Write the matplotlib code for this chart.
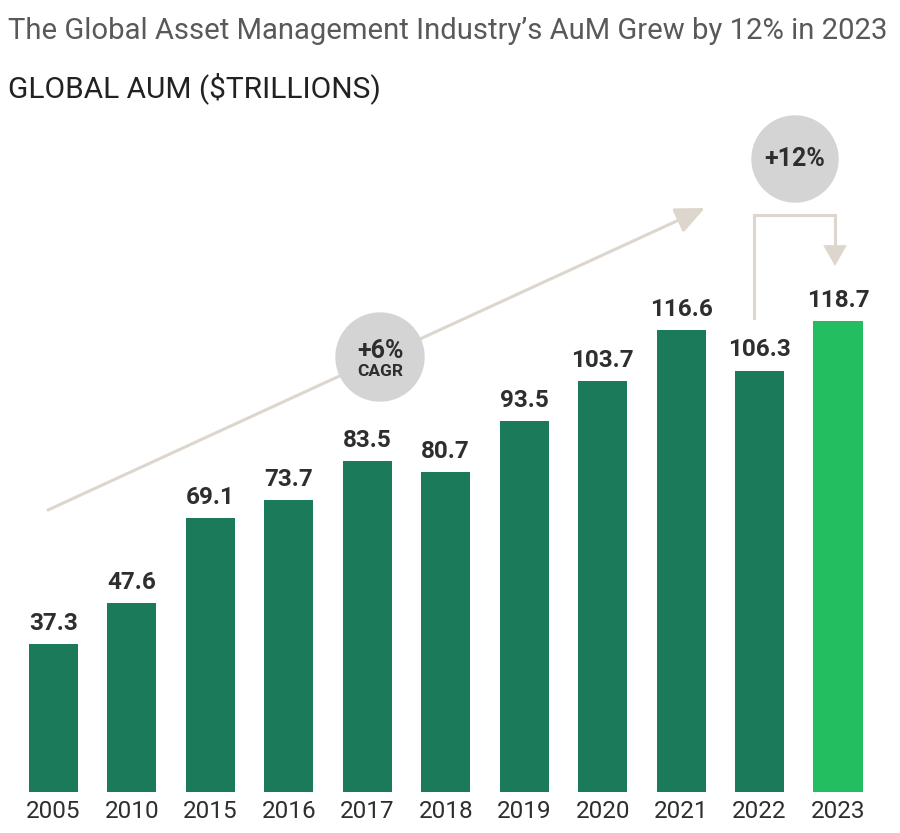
import matplotlib
matplotlib.use("Agg")
import matplotlib.pyplot as plt
from matplotlib.patches import Circle, FancyArrowPatch
from matplotlib.transforms import IdentityTransform

# Dados (US$ trilhoes)
years = ["2005", "2010", "2015", "2016", "2017", "2018", "2019", "2020", "2021", "2022", "2023"]
aum = [37.3, 47.6, 69.1, 73.7, 83.5, 80.7, 93.5, 103.7, 116.6, 106.3, 118.7]
value_labels = ["37.3", "47.6", "69.1", "73.7", "83.5", "80.7", "93.5", "103.7", "116.6", "106.3", "118.7"]

DARK = "#1b7a59"
BRIGHT = "#22be5f"
BEIGE = "#ddd6cc"
GREY = "#d4d4d4"
TXT = "#2e2e2e"

W, H = 900, 833
x0_px, step_px = 53.5, 78.45   # centro da primeira barra e passo
base_px, unit_px = 792, 3.965  # linha de base e px por trilhao

fig = plt.figure(figsize=(W / 100, H / 100), dpi=100)
ax = fig.add_axes([0, 0, 1, 1])
ax.set_xlim(-x0_px / step_px, (W - x0_px) / step_px)
ax.set_ylim(-(H - base_px) / unit_px, base_px / unit_px)
ax.axis("off")

# conversao pixel -> dados (apenas para as anotacoes)
def px(x, y):
    return (x - x0_px) / step_px, (base_px - y) / unit_px

cond = ["Roboto", "DejaVu Sans"]

colors = [DARK] * (len(years) - 1) + [BRIGHT]
pos = list(range(len(years)))
ax.bar(pos, aum, width=0.625, color=colors, zorder=2)

for i in pos:
    ax.text(i, aum[i] + 5.2, value_labels[i], ha="center", va="center",
            fontsize=17.5, fontweight="bold", color=TXT, family=cond)
    ax.text(i, px(0, 811)[1], years[i], ha="center", va="center",
            fontsize=17.5, color=TXT, family=cond)

# titulos, ajustados a largura do original
renderer = fig.canvas.get_renderer()

def fit_text(x, y, s, width_px, size, **kw):
    t = fig.text(x / W, 1 - y / H, s, ha="left", va="center", fontsize=size, **kw)
    w = t.get_window_extent(renderer).width
    t.set_fontsize(size * width_px / w)
    return t

fit_text(8, 31, "The Global Asset Management Industry\u2019s AuM Grew by 12% in 2023",
         877, 20, color="#595959", family=cond)
fit_text(8, 88, "GLOBAL AUM ($TRILLIONS)", 372, 18, color="#222222", family=cond)

# seta longa (CAGR)
ax.add_patch(FancyArrowPatch(px(48, 510), px(705, 208),
                             arrowstyle="-|>,head_length=1.8,head_width=0.8",
                             mutation_scale=10, shrinkA=0, shrinkB=0,
                             color=BEIGE, lw=2.2, zorder=1))

# seta em cotovelo 2022 -> 2023
bx = [px(754, 318), px(754, 215), px(835, 215), px(835, 250)]
ax.plot([p[0] for p in bx], [p[1] for p in bx], color=BEIGE, lw=2.2, zorder=1,
        solid_joinstyle="miter")
ax.add_patch(FancyArrowPatch(px(835, 240), px(835, 266),
                             arrowstyle="-|>,head_length=1.5,head_width=0.85",
                             mutation_scale=10, shrinkA=0, shrinkB=0,
                             color=BEIGE, lw=0, zorder=1))

# circulos (em pixels para ficarem redondos)
def circle(cx, cy, r):
    c = Circle((cx, H - cy), r, color=GREY, zorder=3)
    c.set_transform(IdentityTransform())
    fig.patches.append(c)

circle(380, 357, 44)
circle(795, 159, 43)
fig.text(380 / W, 1 - 351 / H, "+6%", ha="center", va="center", fontsize=18,
         fontweight="bold", color=TXT, family=cond, zorder=4)
fig.text(380 / W, 1 - 372 / H, "CAGR", ha="center", va="center", fontsize=12.5,
         fontweight="bold", color=TXT, family=cond, zorder=4)
fig.text(795 / W, 1 - 159 / H, "+12%", ha="center", va="center", fontsize=18,
         fontweight="bold", color=TXT, family=cond, zorder=4)

fig.savefig("out.png", dpi=100)
